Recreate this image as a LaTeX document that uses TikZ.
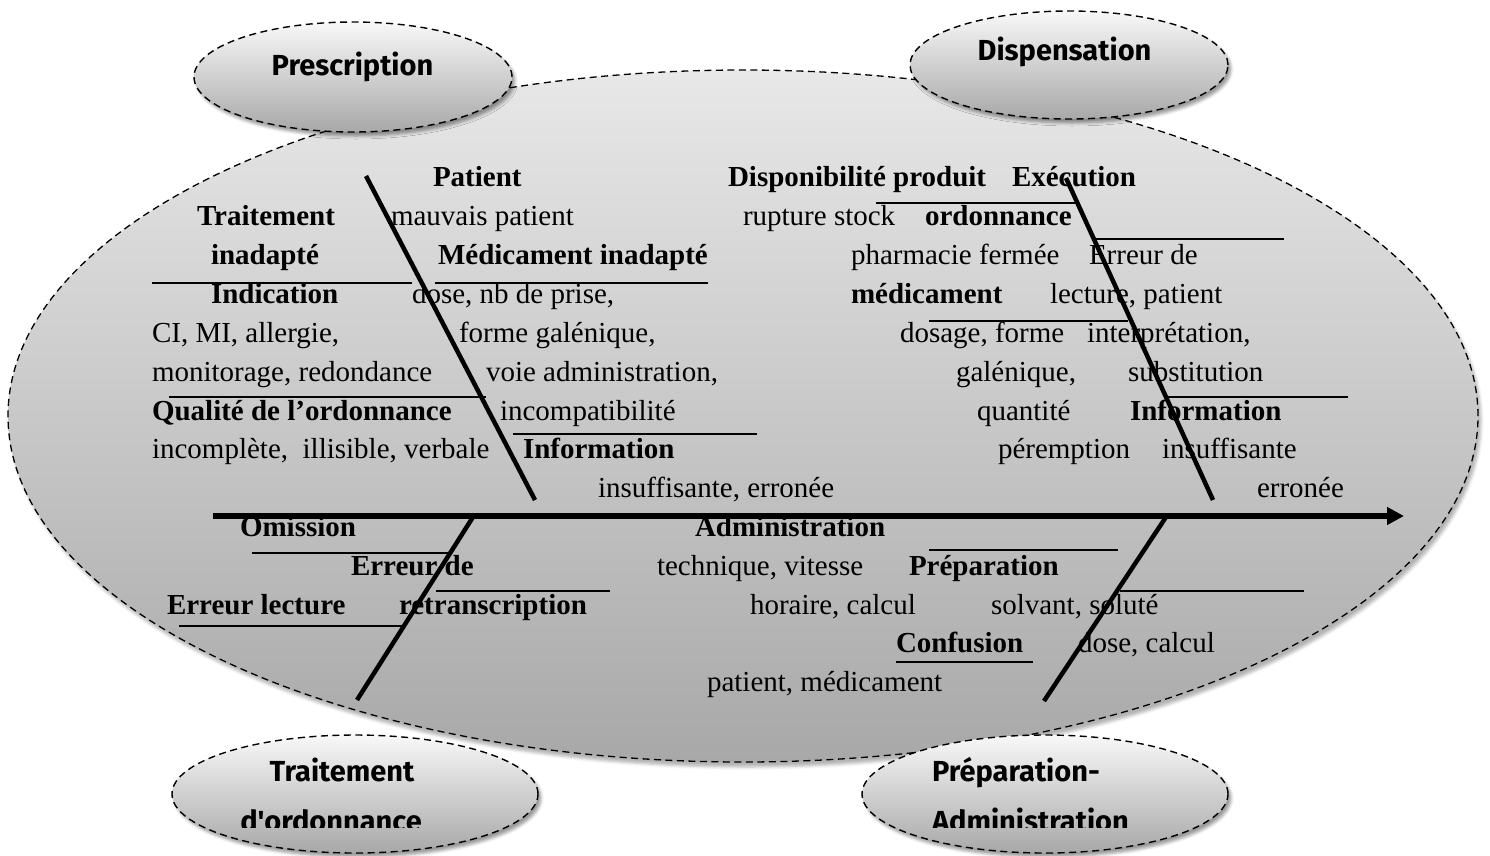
\documentclass[tikz,border=0pt]{standalone}
\usepackage{fontspec}
\setmainfont{Liberation Serif}
\newfontfamily\bubblefont{Fira Sans}
\usetikzlibrary{shapes.geometric,arrows.meta,shadows.blur}

\definecolor{bodytop}{HTML}{E8E8E8}
\definecolor{bodybot}{HTML}{A8A8A8}
\definecolor{bubbletop}{HTML}{F8F8F8}
\definecolor{bubblebot}{HTML}{A8A8A8}

\begin{document}
\begin{tikzpicture}[x=1pt,y=-1pt,
  every node/.style={inner sep=0pt,outer sep=0pt},
  txt/.style={anchor=base west,font=\fontsize{29}{34}\selectfont},
  btxt/.style={anchor=base west,font=\fontsize{29}{34}\selectfont\bfseries},
  body/.style={ellipse,draw=black,line width=1.3pt,dash pattern=on 7pt off 4.5pt,
    top color=bodytop,bottom color=bodybot,
    blur shadow={shadow xshift=3pt,shadow yshift=-5pt,shadow blur radius=3pt,shadow opacity=30}},
  bubble/.style={ellipse,draw=black,line width=1.4pt,dash pattern=on 7pt off 4.5pt,
    top color=bubbletop,bottom color=bubblebot,
    blur shadow={shadow xshift=3pt,shadow yshift=-4pt,shadow blur radius=3pt,shadow opacity=40}},
  bubbletext/.style={font=\bubblefont\fontsize{29}{34}\selectfont\bfseries},
  spine/.style={line width=5.5pt,-{Triangle[length=17pt,width=17pt]}},
  bone/.style={line width=4.5pt},
  sub/.style={line width=2.4pt}]

\useasboundingbox (0,0) rectangle (1490,855);

% background body and the four category bubbles
\node[body,minimum width=1470pt,minimum height=692pt] (bodyshape) at (743,416) {};
\node[bubble,minimum width=318pt,minimum height=110pt] (prescBubble) at (353,77) {};
\node[bubble,minimum width=318pt,minimum height=108pt] (dispBubble) at (1069,65) {};
\node[bubble,minimum width=366pt,minimum height=118pt] (traitBubble) at (355,794) {};
\node[bubble,minimum width=366pt,minimum height=118pt] (prepBubble) at (1045,794) {};

\node[bubbletext,anchor=base] (prescLabel) at (352.5,75) {Prescription};
\node[bubbletext,anchor=base] (dispLabel) at (1064.5,60) {Dispensation};
\begin{scope}
  \clip (170,740) rectangle (545,827);
  \node[bubbletext,anchor=base] (traitLabelA) at (342,781) {Traitement};
  \node[bubbletext,anchor=base] (traitLabelB) at (331,831) {d'ordonnance};
\end{scope}
\begin{scope}
  \clip (860,740) rectangle (1230,827);
  \node[bubbletext,anchor=base west] (prepLabelA) at (932,781) {Préparation-};
  \node[bubbletext,anchor=base west] (prepLabelB) at (932,831) {Administration};
\end{scope}

% Prescription causes
\node[btxt] (tPatient) at (433,186) {Patient};
\node[btxt] (tTraitement) at (197,225) {Traitement};
\node[txt]  (tMauvais) at (391,225) {mauvais patient};
\node[btxt] (tInadapte) at (211,264) {inadapté};
\node[btxt] (tMedInad) at (438,264) {Médicament inadapté};
\node[btxt] (tIndication) at (211,303) {Indication};
\node[txt]  (tDose) at (412,303) {dose, nb de prise,};
\node[txt]  (tCI) at (152,342) {CI, MI, allergie,};
\node[txt]  (tForme) at (459,342) {forme galénique,};
\node[txt]  (tMonit) at (152,381) {monitorage, redondance};
\node[txt]  (tVoie) at (486,381) {voie administration,};
\node[btxt] (tQualite) at (152,420) {Qualité de l’ordonnance};
\node[txt]  (tIncompat) at (500,420) {incompatibilité};
\node[txt]  (tIncompl) at (152,458) {incomplète,\ \ illisible, verbale};
\node[btxt] (tInfoA) at (523,458) {Information};
\node[txt]  (tInsufA) at (598,497) {insuffisante, erronée};

% Dispensation causes
\node[btxt] (tDispo) at (728,186) {Disponibilité produit};
\node[btxt] (tExec) at (1012,186) {Exécution};
\node[txt]  (tRupture) at (743,225) {rupture stock};
\node[btxt] (tOrdo) at (925,225) {ordonnance};
\node[txt]  (tPharma) at (851,264) {pharmacie fermée};
\node[txt]  (tErrDe) at (1089,264) {Erreur de};
\node[btxt] (tMedic) at (851,303) {médicament};
\node[txt]  (tLecture) at (1050,303) {lecture, patient};
\node[txt]  (tDosage) at (900,342) {dosage, forme};
\node[txt]  (tInterp) at (1087,342) {interprétation,};
\node[txt]  (tGalen) at (956,381) {galénique,};
\node[txt]  (tSubst) at (1128,381) {substitution};
\node[txt]  (tQuant) at (977,420) {quantité};
\node[btxt] (tInfoB) at (1130,420) {Information};
\node[txt]  (tPerem) at (998,458) {péremption};
\node[txt]  (tInsufB) at (1162,458) {insuffisante};
\node[txt]  (tErronee) at (1257,497) {erronée};

% Traitement d'ordonnance causes
\node[btxt] (tOmission) at (240,536) {Omission};
\node[btxt] (tErreurDe) at (351,575) {Erreur de};
\node[btxt] (tErrLect) at (167,614) {Erreur lecture};
\node[btxt] (tRetrans) at (399,614) {retranscription};

% Preparation-administration causes
\node[btxt] (tAdmin) at (695,536) {Administration};
\node[txt]  (tTechn) at (657,575) {technique, vitesse};
\node[btxt] (tPrep) at (909,575) {Préparation};
\node[txt]  (tHoraire) at (750,614) {horaire, calcul};
\node[txt]  (tSolvant) at (991,614) {solvant, soluté};
\node[btxt] (tConf) at (896,652) {Confusion};
\node[txt]  (tDoseCalc) at (1078,652) {dose, calcul};
\node[txt]  (tPatMed) at (707,691) {patient, médicament};

% skeleton points
\coordinate (spineStart) at (213,516);
\coordinate (spineEnd) at (1404,516);
\coordinate (ulTop) at (366,176);
\coordinate (ulFoot) at (535,500);
\coordinate (urTop) at (1066,178);
\coordinate (urFoot) at (1213,500);
\coordinate (llFoot) at (473,517);
\coordinate (llEnd) at (357,700);
\coordinate (lrFoot) at (1166,517);
\coordinate (lrEnd) at (1044,701);

\draw[spine] (spineStart) -- (spineEnd);
\draw[bone] (ulTop) -- (ulFoot);
\draw[bone] (urTop) -- (urFoot);
\draw[bone] (llFoot) -- (llEnd);
\draw[bone] (lrFoot) -- (lrEnd);

% separator strokes
\coordinate (s1a) at (152,283);  \coordinate (s1b) at (412,283);
\coordinate (s2a) at (435,283);  \coordinate (s2b) at (708,283);
\coordinate (s3a) at (169,397);  \coordinate (s3b) at (486,397);
\coordinate (s4a) at (513,434);  \coordinate (s4b) at (757,434);
\coordinate (s5a) at (876,203);  \coordinate (s5b) at (1075,203);
\coordinate (s6a) at (1093,239); \coordinate (s6b) at (1284,239);
\coordinate (s7a) at (929,321);  \coordinate (s7b) at (1128,321);
\coordinate (s8a) at (1166,397); \coordinate (s8b) at (1348,397);
\coordinate (s9a) at (252,553);  \coordinate (s9b) at (448,553);
\coordinate (s10a) at (436,591); \coordinate (s10b) at (610,591);
\coordinate (s11a) at (179,626); \coordinate (s11b) at (403,626);
\coordinate (s12a) at (929,550); \coordinate (s12b) at (1118,550);
\coordinate (s13a) at (1120,591); \coordinate (s13b) at (1304,591);
\coordinate (s14a) at (896,662); \coordinate (s14b) at (1033,662);

\foreach \s in {1,...,14}
  \draw[sub] (s\s a) -- (s\s b);

\end{tikzpicture}
\end{document}
